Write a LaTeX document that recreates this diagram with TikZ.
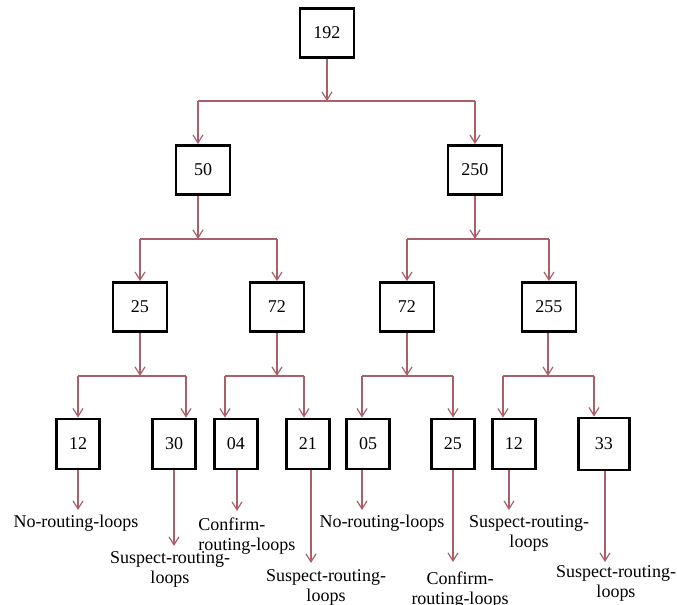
\documentclass[tikz,border=0pt]{standalone}
\usepackage{fontspec}
\setmainfont{Liberation Serif}
\usepackage{tikz}
\usetikzlibrary{arrows.meta}

\definecolor{linkred}{RGB}{170,95,105}

\begin{document}
\begin{tikzpicture}[x=0.5pt,y=-0.5pt,
    >={Straight Barb[length=4pt,width=5pt]},
    box/.style={draw,line width=1.4pt,minimum width=27pt,minimum height=24.5pt,
        inner sep=0pt,font=\fontsize{9}{10}\selectfont},
    leaf/.style={box,minimum width=21.5pt,minimum height=25pt},
    link/.style={draw=linkred,line width=0.6pt},
    outcome/.style={inner sep=0pt,anchor=north,align=center,font=\fontsize{9}{10}\selectfont}]
\useasboundingbox (0,0) rectangle (677,605);

% Tree nodes
\node[box] (n192) at (327,33) {192};
\node[box] (n50) at (203,170) {50};
\node[box] (n250) at (475,170) {250};
\node[box] (n25) at (140,307) {25};
\node[box] (n72a) at (277,307) {72};
\node[box] (n72b) at (407,307) {72};
\node[box] (n255) at (549,307) {255};
\node[leaf] (n12a) at (78,444) {12};
\node[leaf] (n30) at (174,444) {30};
\node[leaf] (n04) at (236,444) {04};
\node[leaf] (n21) at (308,444) {21};
\node[leaf] (n05) at (368,444) {05};
\node[leaf] (n25b) at (453,444) {25};
\node[leaf] (n12b) at (514,444) {12};
\node[leaf,minimum width=25.5pt,minimum height=26pt] (n33) at (604,444) {33};

% Split under 192
\coordinate (s0) at (327,101);
\coordinate (s0l) at (198,101);
\coordinate (s0r) at (475,101);
\draw[link,->] (n192) -- (s0);
\draw[link] (s0l) -- (s0r);
\draw[link,->] (s0l) -- (s0l |- n50.north);
\draw[link,->] (s0r) -- (n250);

% Split under 50 and 250
\coordinate (s1) at (198,239);
\coordinate (s1l) at (140,239);
\coordinate (s1r) at (277,239);
\draw[link,->] (s1 |- n50.south) -- (s1);
\draw[link] (s1l) -- (s1r);
\draw[link,->] (s1l) -- (n25);
\draw[link,->] (s1r) -- (n72a);

\coordinate (s2) at (475,239);
\coordinate (s2l) at (407,239);
\coordinate (s2r) at (549,239);
\draw[link,->] (n250) -- (s2);
\draw[link] (s2l) -- (s2r);
\draw[link,->] (s2l) -- (n72b);
\draw[link,->] (s2r) -- (n255);

% Split under level 2
\coordinate (s3) at (140,376);
\coordinate (s3l) at (78,376);
\coordinate (s3r) at (186,376);
\draw[link,->] (n25) -- (s3);
\draw[link] (s3l) -- (s3r);
\draw[link,->] (s3l) -- (n12a);
\draw[link,->] (s3r) -- (s3r |- n30.north);

\coordinate (s4) at (277,376);
\coordinate (s4l) at (225,376);
\coordinate (s4r) at (304,376);
\draw[link,->] (n72a) -- (s4);
\draw[link] (s4l) -- (s4r);
\draw[link,->] (s4l) -- (s4l |- n04.north);
\draw[link,->] (s4r) -- (s4r |- n21.north);

\coordinate (s5) at (407,376);
\coordinate (s5l) at (362,376);
\coordinate (s5r) at (453,376);
\draw[link,->] (n72b) -- (s5);
\draw[link] (s5l) -- (s5r);
\draw[link,->] (s5l) -- (s5l |- n05.north);
\draw[link,->] (s5r) -- (n25b);

\coordinate (s6) at (548,376);
\coordinate (s6l) at (503,376);
\coordinate (s6r) at (594,376);
\draw[link,->] (s6 |- n255.south) -- (s6);
\draw[link] (s6l) -- (s6r);
\draw[link,->] (s6l) -- (s6l |- n12b.north);
\draw[link,->] (s6r) -- (s6r |- n33.north);

% Outcome arrows
\foreach \leaf/\x/\y in {n12a/78/510, n30/174/546, n04/237/511, n21/311/563,
    n05/362/510, n25b/453/562, n12b/509/510, n33/605/562}{
  \coordinate (e-\leaf) at (\x,\y);
  \draw[link,->] (e-\leaf |- \leaf.south) -- (e-\leaf);
}

% Outcome labels
\node[outcome] (l12a) at (76,515) {No-routing-loops};
\node[outcome] (l30) at (170,551) {Suspect-routing-\\loops};
\node[outcome,anchor=north west,align=left] (l04) at (198,517) {Confirm-\\routing-loops};
\node[outcome] (l21) at (326,569) {Suspect-routing-\\loops};
\node[outcome] (l05) at (382,515) {No-routing-loops};
\node[outcome] (l25b) at (460,571) {Confirm-\\routing-loops};
\node[outcome] (l12b) at (529,515) {Suspect-routing-\\loops};
\node[outcome] (l33) at (616,565) {Suspect-routing-\\loops};
\end{tikzpicture}
\end{document}
